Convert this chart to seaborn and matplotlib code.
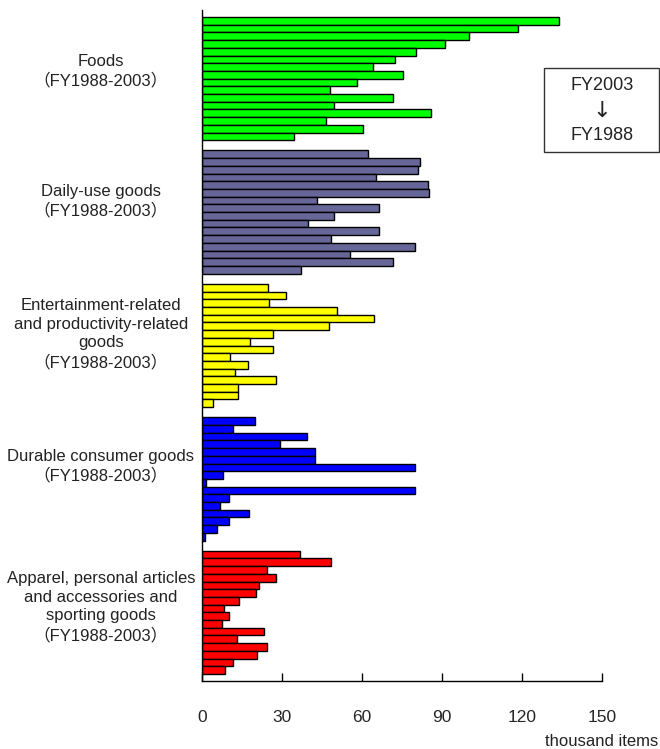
import matplotlib
matplotlib.use("Agg")
import matplotlib.pyplot as plt
import seaborn as sns
import pandas as pd
import numpy as np
from matplotlib.patches import Rectangle

# Years listed from top (FY2003) to bottom (FY1988)
years = list(range(2003, 1987, -1))

categories = [
    "Foods\n（FY1988-2003）",
    "Daily-use goods\n（FY1988-2003）",
    "Entertainment-related\nand productivity-related\ngoods\n（FY1988-2003）",
    "Durable consumer goods\n（FY1988-2003）",
    "Apparel, personal articles\nand accessories and\nsporting goods\n（FY1988-2003）",
]

foods = [133.9, 118.5, 100.0, 91.2, 80.2, 72.2, 64.0, 75.2, 58.2, 47.9, 71.6, 49.5, 86.0, 46.4, 60.2, 34.5]
daily = [62.4, 81.6, 81.0, 65.1, 84.7, 85.1, 43.0, 66.4, 49.6, 39.9, 66.4, 48.2, 79.9, 55.5, 71.7, 37.1]
entertain = [24.7, 31.6, 25.2, 50.7, 64.5, 47.6, 26.5, 18.0, 26.6, 10.6, 17.2, 12.4, 27.6, 13.4, 13.6, 4.0]
durable = [19.9, 11.7, 39.4, 29.1, 42.4, 42.5, 79.7, 7.9, 1.6, 79.7, 10.0, 6.7, 17.5, 10.0, 5.6, 1.0]
apparel = [36.9, 48.4, 24.4, 27.7, 21.2, 20.2, 13.9, 8.4, 10.1, 7.5, 23.2, 13.1, 24.4, 20.7, 11.6, 8.5]

series = [foods, daily, entertain, durable, apparel]
colors = ["#00FF00", "#666699", "#FFFF00", "#0000FF", "#FF0000"]

GROUP_PITCH = 17.3
rows = []
for g, (cat, vals) in enumerate(zip(categories, series)):
    for i, (yr, v) in enumerate(zip(years, vals)):
        rows.append({"group": g, "year": yr, "value": v, "pos": g * GROUP_PITCH + i})
df = pd.DataFrame(rows)

sns.set_style("white")
plt.rcParams["font.family"] = ["Liberation Sans Narrow", "Liberation Sans", "Noto Sans CJK JP", "DejaVu Sans"]

fig = plt.figure(figsize=(6.6, 7.49), dpi=100)
ax = fig.add_axes([202 / 660, 1 - 681 / 749, 400 / 660, 671 / 749])

sns.barplot(data=df, x="value", y="pos", hue="group", palette=colors,
            orient="h", native_scale=True, dodge=False, width=1.0, saturation=1,
            errorbar=None, edgecolor="black", linewidth=1.0, legend=False, ax=ax)

ax.set_xlim(0, 150)
ax.set_ylim(85.6, -1.4)
ax.set_xticks([0, 30, 60, 90, 120, 150])
ax.set_yticks([])
ax.set_xlabel("")
ax.set_ylabel("")
for s in ["top", "right"]:
    ax.spines[s].set_visible(False)
for s in ["left", "bottom"]:
    ax.spines[s].set_color("black")
    ax.spines[s].set_linewidth(1.0)
ax.tick_params(axis="x", direction="in", length=6, width=1, color="black",
               pad=21, labelsize=12.5, bottom=True)

# Group labels
label_y = [71, 201, 334, 466, 607]
for cat, yc in zip(categories, label_y):
    fig.text(101 / 660, 1 - yc / 749, cat, ha="center", va="center",
             fontsize=12, linespacing=1.3, color="#222222")

fig.text(658 / 660, 1 - 741 / 749, "thousand items", ha="right", va="center",
         fontsize=12, color="#222222")

# Legend-like box
fig.patches.append(Rectangle((544 / 660, 1 - 152 / 749), 115 / 660, 84 / 749,
                             transform=fig.transFigure, fill=False,
                             edgecolor="#333333", linewidth=1.0))
fig.text(602 / 660, 1 - 86 / 749, "FY2003", ha="center", va="center", fontsize=13, color="#222222")
fig.text(602 / 660, 1 - 111 / 749, "↓", ha="center", va="center", fontsize=16, color="#222222",
         family=["DejaVu Sans"])
fig.text(602 / 660, 1 - 136 / 749, "FY1988", ha="center", va="center", fontsize=13, color="#222222")

fig.savefig("out.png", dpi=100)
